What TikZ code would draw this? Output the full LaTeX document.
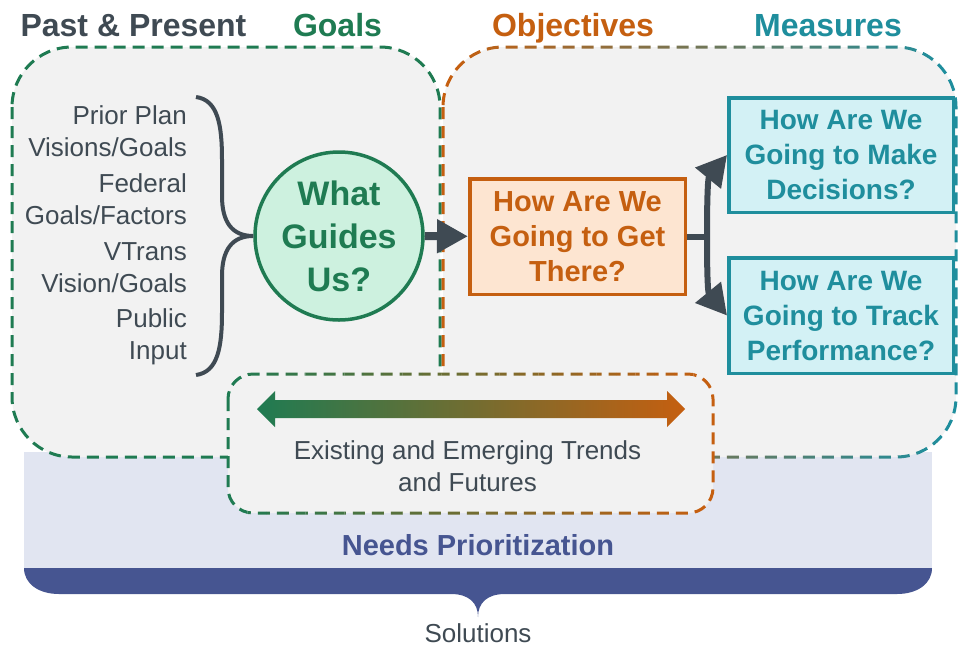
\documentclass[tikz,border=0pt]{standalone}
\usepackage{fontspec}
\setmainfont{Liberation Sans}
\usetikzlibrary{arrows.meta}

\definecolor{slate}{HTML}{3F4A53}
\definecolor{vgreen}{HTML}{1F7B52}
\definecolor{vorange}{HTML}{C55F10}
\definecolor{vteal}{HTML}{1F8E9D}
\definecolor{vnavy}{HTML}{465591}
\definecolor{lav}{HTML}{E1E5F1}
\definecolor{panel}{HTML}{F2F2F2}
\definecolor{mint}{HTML}{CDF1DF}
\definecolor{peach}{HTML}{FDE5D1}
\definecolor{ice}{HTML}{D3F1F5}

\begin{document}
\begin{tikzpicture}[x=1pt,y=-1pt,
    heading/.style={font=\fontsize{32}{36}\selectfont\bfseries,anchor=base,inner sep=0pt},
    listtext/.style={font=\fontsize{26}{32}\selectfont,text=slate,align=right,anchor=east,inner sep=0pt},
    qbox/.style={draw,line width=3.5pt,align=center,inner sep=0pt,font=\fontsize{28}{35}\selectfont\bfseries},
    dashedge/.style={dash pattern=on 12pt off 7pt,line width=3pt},
    thickarrow/.style={draw=slate,line width=6pt,-{Triangle[length=30pt,width=32pt]}}]
    \useasboundingbox (0,0) rectangle (958,646);

    % needs band and solutions brace
    \fill[lav] (24,452) rectangle (932,568);
    \fill[vnavy] (24,568) -- (932,568) .. controls (932,584) and (917,594) .. (897,594) -- (505,594)
        .. controls (487,594) and (478,603) .. (478,617) .. controls (478,603) and (469,594) .. (451,594)
        -- (59,594) .. controls (39,594) and (24,584) .. (24,568) -- cycle;

    % goals panel
    \filldraw[fill=panel,draw=vgreen,dashedge,rounded corners=60pt] (12,47) rectangle (440,457);

    % objectives / measures panel
    \fill[panel,rounded corners=60pt] (443,47) rectangle (956,457);
    \foreach \i in {0,...,26}{
        \pgfmathtruncatemacro\mix{100-100*\i/26}
        \pgfmathsetmacro\xa{443+19*\i-20*(\i==0)}
        \pgfmathsetmacro\xb{462+19*\i+20*(\i==26)}
        \begin{scope}
            \clip (\xa,30) rectangle (\xb,480);
            \draw[dashedge,draw=vorange!\mix!vteal,rounded corners=60pt] (443,47) rectangle (956,457);
        \end{scope}
    }

    % trends panel
    \fill[panel,rounded corners=25pt] (228,374) rectangle (713,513);
    \foreach \i in {0,...,24}{
        \pgfmathtruncatemacro\mix{100-100*\i/24}
        \pgfmathsetmacro\xa{228+19.4*\i-20*(\i==0)}
        \pgfmathsetmacro\xb{247.4+19.4*\i+20*(\i==24)}
        \begin{scope}
            \clip (\xa,360) rectangle (\xb,530);
            \draw[dashedge,draw=vgreen!\mix!vorange,rounded corners=25pt] (228,374) rectangle (713,513);
        \end{scope}
    }
    \shade[left color=vgreen,right color=vorange] (257,409) -- (275,391) -- (275,400) -- (667,400)
        -- (667,391) -- (685,409) -- (667,427) -- (667,418) -- (275,418) -- (275,427) -- cycle;
    \node[font=\fontsize{26}{32}\selectfont,text=slate,align=center,inner sep=0pt] (trends) at (467.5,466)
        {Existing and Emerging Trends\\and Futures};

    % headings
    \node[heading,text=slate] (past) at (133.5,36) {Past \& Present};
    \node[heading,text=vgreen] (goals) at (337.5,36) {Goals};
    \node[heading,text=vorange] (objectives) at (573,36) {Objectives};
    \node[heading,text=vteal] (measures) at (828,36) {Measures};

    % inputs
    \node[listtext] (prior) at (187,131.5) {Prior Plan\\Visions/Goals};
    \node[listtext] (federal) at (187,199.5) {Federal\\Goals/Factors};
    \node[listtext] (vtrans) at (187,267.5) {VTrans\\Vision/Goals};
    \node[listtext] (public) at (187,336.5) {Public\\Input};

    % questions
    \node[circle,draw=vgreen,fill=mint,line width=3.5pt,minimum size=168pt,inner sep=0pt,text=vgreen,
        font=\fontsize{34}{43}\selectfont\bfseries,align=center] (guides) at (339,236) {What\\Guides\\Us?};
    \node[qbox,draw=vorange,fill=peach,text=vorange,minimum width=215.5pt,minimum height=115.5pt,
        font=\fontsize{29}{35}\selectfont\bfseries] (getthere) at (577.5,236.5) {How Are We\\Going to Get\\There?};
    \node[qbox,draw=vteal,fill=ice,text=vteal,minimum width=224.5pt,minimum height=114.5pt]
        (decide) at (841,155) {How Are We\\Going to Make\\Decisions?};
    \node[qbox,draw=vteal,fill=ice,text=vteal,minimum width=224.5pt,minimum height=115.5pt]
        (track) at (841,315.5) {How Are We\\Going to Track\\Performance?};

    % brace into the circle
    \draw[slate,line width=4pt] (196,97) .. controls (218,100) and (222,125) .. (222,160) -- (222,196)
        .. controls (222,222) and (232,236) .. (guides.west) .. controls (232,236) and (222,250) .. (222,276)
        -- (222,312) .. controls (222,347) and (218,372) .. (196,375);

    % connectors
    \draw[thickarrow,line width=8pt,-{Triangle[length=31pt,width=32pt]}] (guides) -- (getthere);
    \draw[slate,line width=6pt] (getthere.east) -- ++(23,0) coordinate (fork);
    \draw[thickarrow] ([xshift=-3pt]fork) .. controls +(0,-60) and +(-18,22) .. (decide.west);
    \draw[thickarrow] ([xshift=-3pt]fork) .. controls +(0,60) and +(-18,-22) .. (track.west);
    \node[font=\fontsize{29}{34}\selectfont\bfseries,text=vnavy,anchor=base] (needs) at (478,555) {Needs Prioritization};
    \node[font=\fontsize{26}{30}\selectfont,text=slate,anchor=base] (solutions) at (478,642) {Solutions};
\end{tikzpicture}
\end{document}
